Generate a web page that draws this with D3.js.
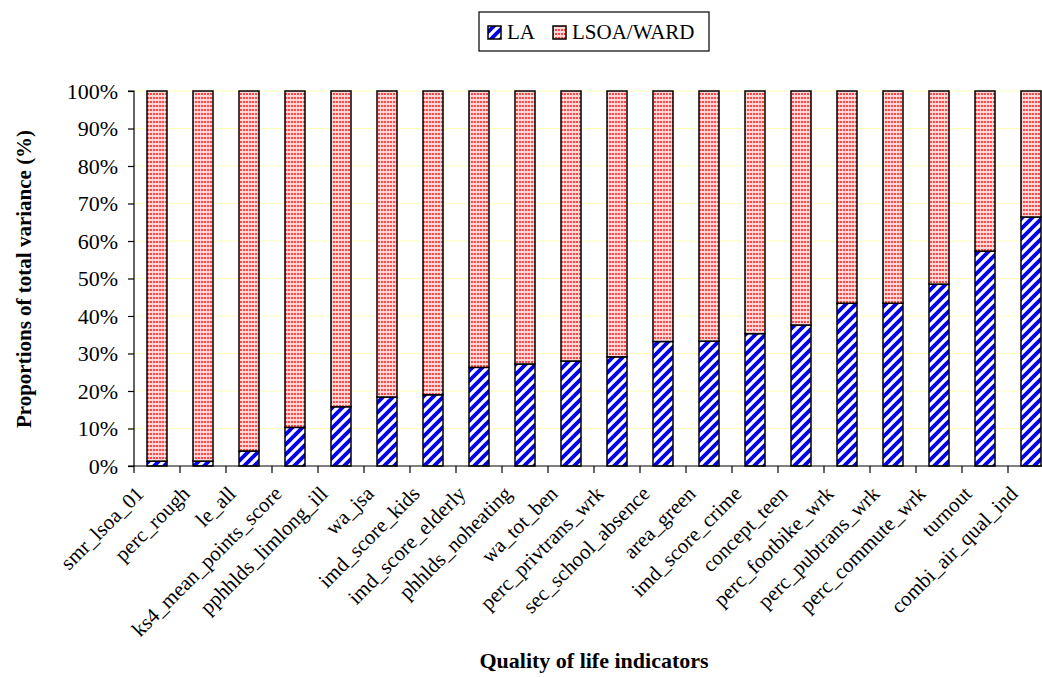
<!DOCTYPE html>
<html>
<head>
<meta charset="utf-8">
<script src="https://cdn.jsdelivr.net/npm/d3@7"></script>
<style>
  html, body { margin: 0; padding: 0; background: #fff; }
  svg { display: block; font-family: "Liberation Serif", "Times New Roman", serif; }
</style>
</head>
<body>
<svg id="chart" width="1042" height="677"></svg>
<script>
const categories = ["smr_lsoa_01","perc_rough","le_all","ks4_mean_points_score","pphhlds_limlong_ill","wa_jsa","imd_score_kids","imd_score_elderly","phhlds_noheating","wa_tot_ben","perc_privtrans_wrk","sec_school_absence","area_green","imd_score_crime","concept_teen","perc_footbike_wrk","perc_pubtrans_wrk","perc_commute_wrk","turnout","combi_air_qual_ind"];
const laValues = [1.3, 1.3, 4.0, 10.3, 15.8, 18.4, 19.0, 26.3, 27.2, 28.0, 29.1, 33.2, 33.3, 35.3, 37.6, 43.4, 43.4, 48.5, 57.3, 66.4];
const lsoaValues = laValues.map(v => 100 - v);
const seriesNames = ["LA", "LSOA/WARD"];
const yTicks = [0,10,20,30,40,50,60,70,80,90,100];

const svg = d3.select("#chart");
const defs = svg.append("defs");

// LA pattern: blue diagonal stripes
const pLA = defs.append("pattern").attr("id","pLA").attr("patternUnits","userSpaceOnUse")
  .attr("width",10).attr("height",10);
pLA.append("rect").attr("width",10).attr("height",10).attr("fill","#fff");
pLA.append("path").attr("d","M-3,3 L3,-3 M0,10 L10,0 M7,13 L13,7")
  .attr("stroke","#0000ee").attr("stroke-width",3.8);

// LSOA pattern: red dots on pink
const pLS = defs.append("pattern").attr("id","pLS").attr("patternUnits","userSpaceOnUse")
  .attr("width",3).attr("height",4);
pLS.append("rect").attr("width",3).attr("height",4).attr("fill","#ffd6d6");
pLS.append("rect").attr("x",0).attr("y",1).attr("width",2).attr("height",2).attr("fill","#ff4545");

const fills = ["url(#pLA)", "url(#pLS)"];

const x = d3.scaleBand().domain(categories).range([134, 1054]).paddingInner(0.565).paddingOuter(0.2825);
const y = d3.scaleLinear().domain([0, 100]).range([466, 91]);

// gridlines
svg.append("g").selectAll("line").data(yTicks.filter(d => d > 0)).join("line")
  .attr("x1", 134).attr("x2", 1054)
  .attr("y1", d => y(d)).attr("y2", d => y(d))
  .attr("stroke", "#ffffb8").attr("stroke-width", 1);

// stacked data
const rows = categories.map((c, i) => ({cat: c, LA: laValues[i], "LSOA/WARD": lsoaValues[i]}));
const stack = d3.stack().keys(seriesNames)(rows);

svg.append("g").selectAll("g").data(stack).join("g")
  .attr("fill", (d, i) => fills[i])
  .selectAll("rect").data(d => d).join("rect")
  .attr("x", d => x(d.data.cat))
  .attr("width", x.bandwidth())
  .attr("y", d => y(d[1]))
  .attr("height", d => y(d[0]) - y(d[1]))
  .attr("stroke", "#000").attr("stroke-width", 1.5);

// y axis
const yAxis = d3.axisLeft(y).tickValues(yTicks).tickFormat(d => d + "%").tickSize(6).tickPadding(10);
const gy = svg.append("g").attr("transform", "translate(134,0)").call(yAxis);
gy.select(".domain").attr("stroke", "#000").attr("stroke-width", 1.2).attr("d", "M-6,91H0V466H-6");
gy.selectAll(".tick line").attr("stroke", "#000").attr("stroke-width", 1.2);
gy.selectAll(".tick text").attr("font-size", 22).attr("fill", "#000")
  .attr("font-family", "Liberation Serif, Times New Roman, serif");

// x axis line and ticks at band boundaries
svg.append("line").attr("x1", 134).attr("x2", 1054).attr("y1", 466).attr("y2", 466)
  .attr("stroke", "#000").attr("stroke-width", 1.2);
const bounds = d3.range(categories.length + 1).map(i => 134 + i * x.step());
svg.append("g").selectAll("line").data(bounds).join("line")
  .attr("x1", d => d).attr("x2", d => d).attr("y1", 466).attr("y2", 473)
  .attr("stroke", "#000").attr("stroke-width", 1.2);

// x labels
svg.append("g").selectAll("text").data(categories).join("text")
  .attr("transform", d => `translate(${x(d) + x.bandwidth() / 2 - 12},${495}) rotate(-45)`)
  .attr("text-anchor", "end")
  .attr("font-size", 21)
  .attr("fill", "#000")
  .text(d => d);

// axis titles
svg.append("text").attr("x", 594).attr("y", 668).attr("text-anchor", "middle")
  .attr("font-size", 22).attr("font-weight", "bold").text("Quality of life indicators");
svg.append("text").attr("transform", "translate(31,279) rotate(-90)").attr("text-anchor", "middle")
  .attr("font-size", 21).attr("font-weight", "bold").text("Proportions of total variance (%)");

// legend
const lg = svg.append("g");
lg.append("rect").attr("x", 479).attr("y", 12).attr("width", 230).attr("height", 39)
  .attr("fill", "#fff").attr("stroke", "#000").attr("stroke-width", 1.2);
const legendX = [488, 553];
seriesNames.forEach((s, i) => {
  lg.append("rect").attr("x", legendX[i]).attr("y", 26).attr("width", 13).attr("height", 13)
    .attr("fill", fills[i]).attr("stroke", "#000").attr("stroke-width", 1.5);
  lg.append("text").attr("x", legendX[i] + 19).attr("y", 39).attr("font-size", 21)
    .attr("fill", "#000").text(s);
});
</script>
</body>
</html>
